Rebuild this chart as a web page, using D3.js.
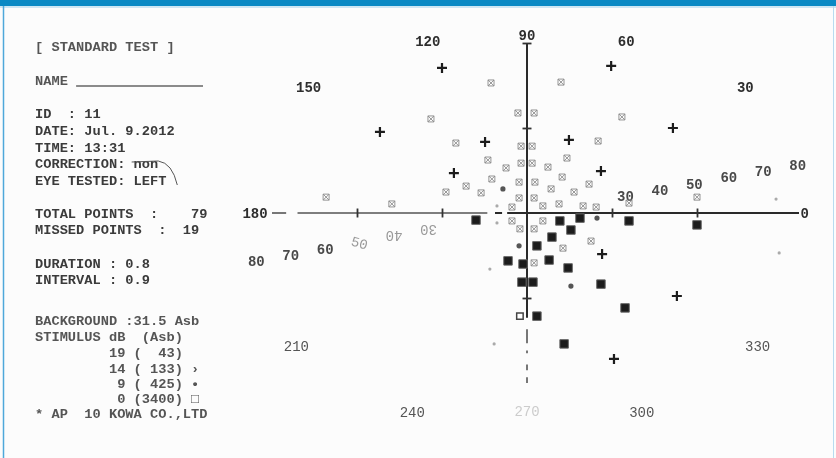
<!DOCTYPE html>
<html>
<head>
<meta charset="utf-8">
<script src="https://cdn.jsdelivr.net/npm/d3@7"></script>
<style>
body{margin:0;background:#fff;}
svg{display:block;}
text{font-family:"Liberation Mono","DejaVu Sans Mono",monospace;white-space:pre;}
</style>
</head>
<body>
<svg id="chart"></svg>
<script>
// printout header text, one entry per printed line
var infoLines = [
    "[ STANDARD TEST ]",
    "NAME",
    "ID  : 11",
    "DATE: Jul. 9.2012",
    "TIME: 13:31",
    "CORRECTION: non",
    "EYE TESTED: LEFT",
    "TOTAL POINTS  :    79",
    "MISSED POINTS  :  19",
    "DURATION : 0.8",
    "INTERVAL : 0.9",
    "BACKGROUND :31.5 Asb",
    "STIMULUS dB  (Asb)",
    "         19 (  43)",
    "         14 ( 133) \u203a",
    "          9 ( 425) \u2022",
    "          0 (3400) \u25a1",
    "* AP  10 KOWA CO.,LTD"
];

// meridian labels (degrees) and how far out (eccentricity) each is printed
var meridians = [0, 30, 60, 90, 120, 150, 180, 210, 240, 270, 300, 330];
var meridianLabelEcc = [98, 89, 70, 63, 70, 89, 96, 94, 81, 70, 81, 94];

// eccentricity labels printed along the 10 / 190 degree lines
var eccLabels = [30, 40, 50, 60, 70, 80];

// test points, [x deg, y deg] in the visual field
var seenPoints = [
    [-12.7,45.9],[-3.2,35.3],[2.5,35.3],[-33.9,33.2],[12.0,46.2],[33.5,33.9],
    [-25.1,24.7],[-2.1,23.6],[1.8,23.6],[-13.8,18.7],[-7.4,15.9],[-2.1,17.6],
    [1.8,17.6],[-21.5,9.5],[-12.4,12.0],[-28.6,7.4],[-16.2,7.1],[-2.8,10.9],
    [2.8,10.9],[-2.8,5.3],[2.5,5.3],[-70.9,5.6],[-47.7,3.2],[-5.3,2.1],
    [25.1,25.4],[14.1,19.4],[7.4,16.2],[12.4,12.7],[8.5,8.5],[21.9,10.2],
    [16.6,7.4],[5.6,2.5],[11.3,3.2],[19.8,2.5],[24.4,2.1],[36.0,3.5],
    [60.0,5.6],[-5.3,-2.8],[5.6,-2.8],[-2.5,-5.6],[2.5,-5.6],[12.7,-12.4],
    [22.6,-9.9],[2.5,-17.6]
];
var plusPoints = [
    [-30.0,51.2],[29.7,51.9],[-51.9,28.6],[-14.8,25.1],[51.5,30.0],[14.8,25.8],
    [-25.8,14.1],[26.1,14.8],[26.5,-14.5],[52.9,-29.3],[30.7,-51.5]
];
var missedPoints = [
    [-18.0,-2.5],[11.6,-2.8],[18.7,-1.8],[36.0,-2.8],[60.0,-4.2],[15.5,-6.0],
    [8.8,-8.5],[3.5,-11.6],[-6.7,-16.9],[-1.4,-18.0],[7.8,-16.6],[14.5,-19.4],
    [-1.8,-24.4],[2.1,-24.4],[26.1,-25.1],[34.6,-33.5],[3.5,-36.4],[13.1,-46.2]
];
var openPoints = [[-2.5,-36.4]];
var dotPoints = [[-8.5,8.5],[-2.8,-11.6],[24.7,-1.8],[15.5,-25.8]];
var faintPoints = [[-10.6,2.5],[-10.6,-3.5],[-13.1,-19.8],[87.9,4.9],[89.0,-14.1],[-11.6,-46.2]];

// axis pieces as printed (degrees along each axis)
var hAxisSegs = [[-90,-85],[-81,-14],[-11.3,-8.8],[-7,96]];
var vAxisSegs = [[-37,60],[-41,-46],[-48.5,-49.5],[-53.5,-55.5],[-58,-60]];
var hTicks = [-60, -30, 30, 60];
var vTicks = [-30, 30, 60];

var screen = {width:836, height:458};

var svg = d3.select("#chart")
    .attr("width", screen.width)
    .attr("height", screen.height);

var defs = svg.append("defs");
defs.append("filter").attr("id","soft")
    .append("feGaussianBlur").attr("stdDeviation", 0.4);

// paper + frame
svg.append("rect")
    .attr("width", screen.width).attr("height", screen.height)
    .attr("fill", "#fcfcfc");
svg.append("rect")
    .attr("width", screen.width).attr("height", 6)
    .attr("fill", "#0a89c4");
svg.append("line")
    .attr("x1", 0).attr("x2", screen.width).attr("y1", 7).attr("y2", 7)
    .attr("stroke", "#9fd0ea").attr("stroke-width", 1);
svg.append("line")
    .attr("x1", 3.5).attr("x2", 3.5).attr("y1", 6).attr("y2", screen.height)
    .attr("stroke", "#4ea8da").attr("stroke-width", 1.5);
svg.append("line")
    .attr("x1", 833.5).attr("x2", 833.5).attr("y1", 6).attr("y2", screen.height)
    .attr("stroke", "#b7dcf0").attr("stroke-width", 1);

// field scales, 30 degrees = 85 px
var xScale = d3.scaleLinear().domain([-90, 90]).range([272, 782]);
var yScale = d3.scaleLinear().domain([-90, 90]).range([468, -42]);

var polar = function(angle, ecc)
{
    var a = angle * Math.PI / 180;
    return [xScale(ecc * Math.cos(a)), yScale(ecc * Math.sin(a))];
}

var drawInfo = function(target)
{
    var lineY = [46,80,113,130,147,163,180,213,229,263,279,320,336,352,368,383,398,413];
    var left = 35;
    var size = 13.7;
    var g = target.append("g").attr("filter","url(#soft)");
    g.selectAll("text")
        .data(infoLines)
        .enter()
        .append("text")
        .attr("x", left)
        .attr("y", function(d,i){ return lineY[i]; })
        .attr("dy", "0.36em")
        .attr("font-size", size)
        .attr("font-weight", "bold")
        .attr("fill", function(d,i){ return i < 11 && i > 1 ? "#3a3a3a" : "#555"; })
        .text(function(d){ return d; });

    var charW = size * 0.6;
    // name line
    g.append("line")
        .attr("x1", left + 5 * charW).attr("x2", 203)
        .attr("y1", lineY[1] + 6).attr("y2", lineY[1] + 6)
        .attr("stroke", "#666").attr("stroke-width", 1.3);
    // pen mark over "non"
    var x0 = left + 12 * charW, y0 = lineY[5];
    g.append("path")
        .attr("d", "M" + (x0 - 2) + "," + (y0 - 1) + " L" + (x0 + 3 * charW) + "," + (y0 - 2)
              + " Q" + (x0 + 3 * charW + 14) + "," + (y0) + " " + (x0 + 3 * charW + 19) + "," + (y0 + 22))
        .attr("fill", "none").attr("stroke", "#555").attr("stroke-width", 1);
}

var drawAxes = function(target)
{
    var g = target.append("g").attr("filter","url(#soft)");
    var cx = xScale(0), cy = yScale(0);

    g.selectAll(".hseg")
        .data(hAxisSegs)
        .enter()
        .append("line")
        .attr("x1", function(d){ return xScale(d[0]); })
        .attr("x2", function(d){ return xScale(d[1]); })
        .attr("y1", cy).attr("y2", cy)
        .attr("stroke", function(d){ return d[1] < -10 ? "#555" : "#2a2a2a"; })
        .attr("stroke-width", function(d){ return d[1] < -10 ? 1.6 : 2; });

    g.selectAll(".vseg")
        .data(vAxisSegs)
        .enter()
        .append("line")
        .attr("y1", function(d){ return yScale(d[0]); })
        .attr("y2", function(d){ return yScale(d[1]); })
        .attr("x1", cx).attr("x2", cx)
        .attr("stroke", function(d){ return d[1] < -38 ? "#777" : "#2a2a2a"; })
        .attr("stroke-width", 2);

    var xAxis = d3.axisBottom(xScale).tickValues(hTicks).tickSize(9).tickFormat("");
    g.append("g")
        .attr("transform", "translate(0," + (cy - 4.5) + ")")
        .call(xAxis)
        .call(function(a){ a.select(".domain").remove(); })
        .selectAll("line").attr("stroke", "#333").attr("stroke-width", 1.8);

    var yAxis = d3.axisLeft(yScale).tickValues(vTicks).tickSize(9).tickFormat("");
    g.append("g")
        .attr("transform", "translate(" + (cx + 4.5) + ",0)")
        .call(yAxis)
        .call(function(a){ a.select(".domain").remove(); })
        .selectAll("line").attr("stroke", "#333").attr("stroke-width", 1.8);
}

var drawLabels = function(target)
{
    var g = target.append("g").attr("filter","url(#soft)");
    g.selectAll(".meridian")
        .data(meridians)
        .enter()
        .append("text")
        .attr("x", function(d,i){ return polar(d, meridianLabelEcc[i])[0]; })
        .attr("y", function(d,i){ return polar(d, meridianLabelEcc[i])[1]; })
        .attr("dy", "0.36em")
        .attr("text-anchor", "middle")
        .attr("font-size", 14)
        .attr("font-weight", function(d){ return d > 180 ? "normal" : "bold"; })
        .attr("fill", function(d){ return d == 270 ? "#ccc" : (d > 180 ? "#555" : "#2e2e2e"); })
        .text(function(d){ return d; });

    var eccPos = d3.scaleLinear().domain([30, 80]).range([35.3, 97]);
    g.selectAll(".eccR")
        .data(eccLabels)
        .enter()
        .append("text")
        .attr("x", function(d){ return polar(10, eccPos(d))[0]; })
        .attr("y", function(d){ return polar(10, eccPos(d))[1]; })
        .attr("dy", "0.36em")
        .attr("text-anchor", "middle")
        .attr("font-size", 14)
        .attr("font-weight", "bold")
        .attr("fill", "#4a4a4a")
        .text(function(d){ return d; });

    g.selectAll(".eccL")
        .data(eccLabels)
        .enter()
        .append("text")
        .attr("transform", function(d){
            var p = polar(190, eccPos(d));
            var rot = d < 50 ? 180 : (d == 50 ? 15 : 0);
            return "translate(" + p[0] + "," + p[1] + ") rotate(" + rot + ")";
        })
        .attr("dy", "0.36em")
        .attr("text-anchor", "middle")
        .attr("font-size", 14)
        .attr("font-weight", function(d){ return d <= 50 ? "normal" : "bold"; })
        .attr("fill", function(d){ return d <= 50 ? "#999" : "#4a4a4a"; })
        .text(function(d){ return d; });
}

var drawPoints = function(target)
{
    var g = target.append("g").attr("filter","url(#soft)");
    var pos = function(d){ return "translate(" + xScale(d[0]) + "," + yScale(d[1]) + ")"; };

    // seen: small crossed box
    g.selectAll(".seen")
        .data(seenPoints)
        .enter()
        .append("path")
        .attr("transform", pos)
        .attr("d", "M-3,-3H3V3H-3Z M-3,-3L3,3 M3,-3L-3,3")
        .attr("fill", "none")
        .attr("stroke", "#8a8a8a")
        .attr("stroke-width", 0.9);

    g.selectAll(".plus")
        .data(plusPoints)
        .enter()
        .append("path")
        .attr("transform", pos)
        .attr("d", "M-5,0H5 M0,-5V5")
        .attr("stroke", "#1e1e1e")
        .attr("stroke-width", 2.2);

    g.selectAll(".missed")
        .data(missedPoints)
        .enter()
        .append("path")
        .attr("transform", pos)
        .attr("d", d3.symbol().type(d3.symbolSquare).size(72))
        .attr("fill", "#1a1a1a")
        .attr("stroke", "#666")
        .attr("stroke-width", 1);

    g.selectAll(".open")
        .data(openPoints)
        .enter()
        .append("path")
        .attr("transform", pos)
        .attr("d", d3.symbol().type(d3.symbolSquare).size(42))
        .attr("fill", "#fff")
        .attr("stroke", "#444")
        .attr("stroke-width", 1.5);

    g.selectAll(".dot")
        .data(dotPoints)
        .enter()
        .append("circle")
        .attr("transform", pos)
        .attr("r", 2.6)
        .attr("fill", "#555");

    g.selectAll(".faint")
        .data(faintPoints)
        .enter()
        .append("circle")
        .attr("transform", pos)
        .attr("r", 1.6)
        .attr("fill", "#aaa");
}

drawInfo(svg);
drawAxes(svg);
drawLabels(svg);
drawPoints(svg);
</script>
</body>
</html>
